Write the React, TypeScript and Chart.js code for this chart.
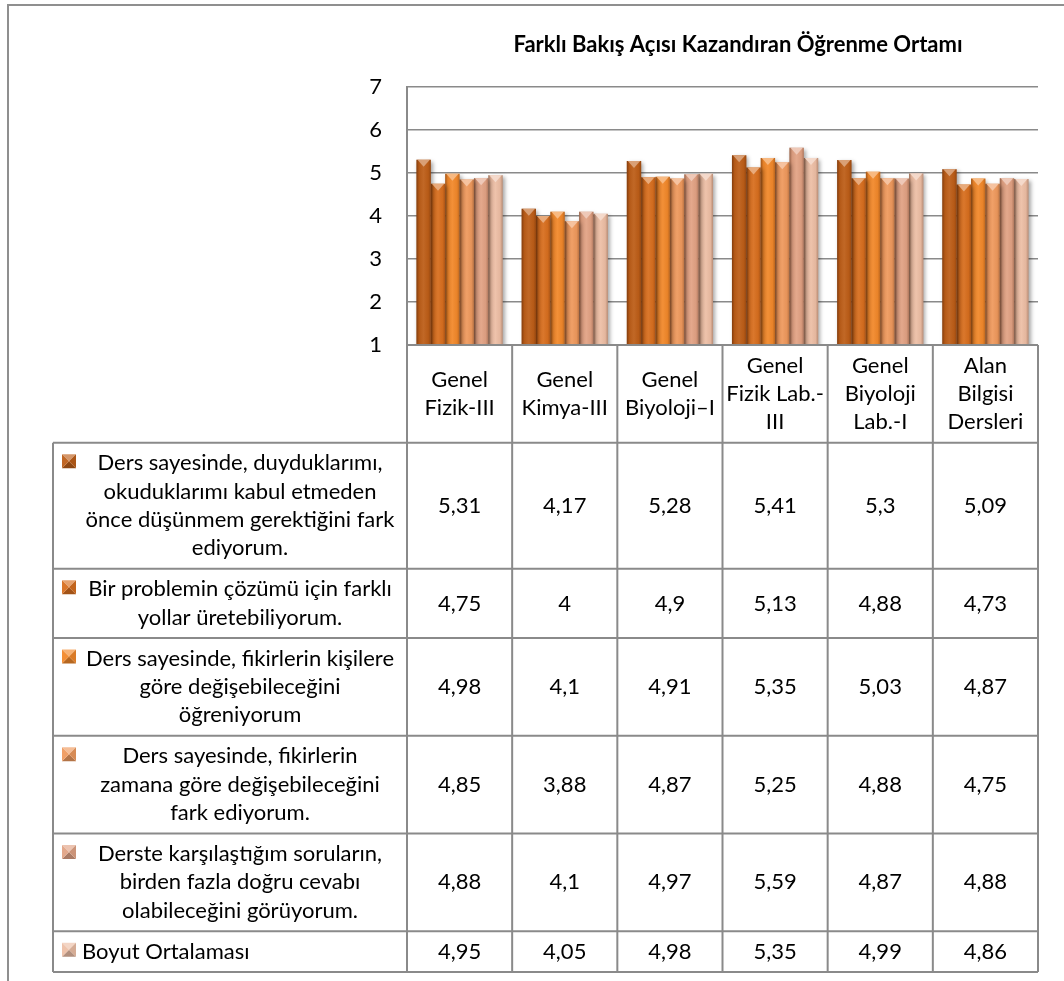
import React, { useEffect, useRef } from "react";
import { Chart, registerables } from "chart.js";

Chart.register(...registerables);

// ---------- data ----------
const chartTitle = "Farklı Bakış Açısı Kazandıran Öğrenme Ortamı";

const categoryLines: string[][] = [
  ["Genel", "Fizik-III"],
  ["Genel", "Kimya-III"],
  ["Genel", "Biyoloji–I"],
  ["Genel", "Fizik Lab.-", "III"],
  ["Genel", "Biyoloji", "Lab.-I"],
  ["Alan", "Bilgisi", "Dersleri"],
];

const seriesLabelLines: string[][] = [
  ["Ders sayesinde, duyduklarımı,", "okuduklarımı kabul etmeden", "önce düşünmem gerektiğini fark", "ediyorum."],
  ["Bir problemin çözümü için farklı", "yollar üretebiliyorum."],
  ["Ders sayesinde, fikirlerin kişilere", "göre değişebileceğini", "öğreniyorum"],
  ["Ders sayesinde, fikirlerin", "zamana göre değişebileceğini", "fark ediyorum."],
  ["Derste karşılaştığım soruların,", "birden fazla doğru cevabı", "olabileceğini görüyorum."],
  ["Boyut Ortalaması"],
];

const duyduklarimi = [5.31, 4.17, 5.28, 5.41, 5.3, 5.09];
const farkliYollar = [4.75, 4, 4.9, 5.13, 4.88, 4.73];
const kisilereGore = [4.98, 4.1, 4.91, 5.35, 5.03, 4.87];
const zamanaGore = [4.85, 3.88, 4.87, 5.25, 4.88, 4.75];
const dogruCevap = [4.88, 4.1, 4.97, 5.59, 4.87, 4.88];
const boyutOrtalamasi = [4.95, 4.05, 4.98, 5.35, 4.99, 4.86];

const seriesValues = [duyduklarimi, farkliYollar, kisilereGore, zamanaGore, dogruCevap, boyutOrtalamasi];

const yMin = 1;
const yMax = 7;
const yStep = 1;

const seriesColors = ["#BD5E18", "#D86F1F", "#F2892B", "#EF9A5E", "#E2A385", "#EDBFA6"];

// ---------- styles ----------
const FONT = "Lato, 'Open Sans', sans-serif";
const LINE_COLOR = "#8a8a8a";
const TEXT_SIZE = 22;

function shade(hex: string, amt: number): string {
  const n = parseInt(hex.slice(1), 16);
  let r = (n >> 16) & 255, g = (n >> 8) & 255, b = n & 255;
  if (amt >= 0) {
    r = Math.round(r + (255 - r) * amt);
    g = Math.round(g + (255 - g) * amt);
    b = Math.round(b + (255 - b) * amt);
  } else {
    r = Math.round(r * (1 + amt));
    g = Math.round(g * (1 + amt));
    b = Math.round(b * (1 + amt));
  }
  return `rgb(${r},${g},${b})`;
}

function fmt(v: number): string {
  return String(v).replace(".", ",");
}

const decorPlugin = {
  id: "decor",
  beforeDraw(chart: any) {
    const ctx = chart.ctx as CanvasRenderingContext2D;
    ctx.save();
    ctx.fillStyle = "#ffffff";
    ctx.fillRect(0, 0, chart.width, chart.height);
    // outer frame (cropped at right and bottom)
    ctx.strokeStyle = "#8f8f8f";
    ctx.lineWidth = 2;
    ctx.beginPath();
    ctx.moveTo(8, chart.height + 5);
    ctx.lineTo(8, 5);
    ctx.lineTo(chart.width + 5, 5);
    ctx.stroke();
    ctx.restore();
  },
  beforeDatasetsDraw(chart: any) {
    const ctx = chart.ctx as CanvasRenderingContext2D;
    ctx.save();
    ctx.shadowColor = "rgba(0,0,0,0.35)";
    ctx.shadowBlur = 4;
    ctx.shadowOffsetX = 2;
    ctx.shadowOffsetY = 2;
  },
  afterDatasetsDraw(chart: any) {
    const ctx = chart.ctx as CanvasRenderingContext2D;
    ctx.restore();
    const area = chart.chartArea;
    ctx.save();
    ctx.beginPath();
    ctx.rect(area.left, area.top, area.right - area.left, area.bottom - area.top);
    ctx.clip();
    chart.data.datasets.forEach((ds: any, di: number) => {
      const meta = chart.getDatasetMeta(di);
      meta.data.forEach((bar: any) => {
        const { x, y, base, width } = bar.getProps(["x", "y", "base", "width"], true);
        const l = x - width / 2;
        const h = base - y;
        const g = ctx.createLinearGradient(l, 0, l + width, 0);
        g.addColorStop(0, "rgba(60,20,0,0.45)");
        g.addColorStop(0.18, "rgba(60,20,0,0.08)");
        g.addColorStop(0.5, "rgba(255,255,255,0.06)");
        g.addColorStop(0.82, "rgba(60,20,0,0.05)");
        g.addColorStop(1, "rgba(60,20,0,0.3)");
        ctx.fillStyle = g;
        ctx.fillRect(l, y, width, h);
        // top bevel triangle
        ctx.fillStyle = shade(seriesColors[di], 0.45);
        ctx.globalAlpha = 0.9;
        ctx.beginPath();
        ctx.moveTo(l + 1, y);
        ctx.lineTo(l + width - 1, y);
        ctx.lineTo(x, y + 7);
        ctx.closePath();
        ctx.fill();
        ctx.globalAlpha = 1;
      });
    });
    ctx.restore();
  },
  afterDraw(chart: any) {
    const ctx = chart.ctx as CanvasRenderingContext2D;
    const area = chart.chartArea;
    const xs = chart.scales.x;
    const n = categoryLines.length;
    const colW = (area.right - area.left) / n;
    const lineH = 28.4;
    const pad = 12.5;
    const labelLeft = 53;
    const textCenter = 240;

    ctx.save();
    // title
    ctx.fillStyle = "#000";
    ctx.font = `bold 22px ${FONT}`;
    ctx.textAlign = "center";
    ctx.textBaseline = "middle";
    ctx.fillText(chartTitle, 738, 45);

    // header row
    const maxHeaderLines = Math.max(...categoryLines.map((c) => c.length));
    const headerTop = area.bottom;
    const headerBottom = headerTop + maxHeaderLines * lineH + pad;
    ctx.font = `${TEXT_SIZE}px ${FONT}`;
    const hc = (headerTop + headerBottom) / 2;
    categoryLines.forEach((lines, i) => {
      const cx = xs.getPixelForValue(i);
      lines.forEach((t, k) => {
        ctx.fillText(t, cx, hc + (k - (lines.length - 1) / 2) * lineH);
      });
    });

    // rows
    const rowTops: number[] = [];
    let yTop = headerBottom;
    seriesLabelLines.forEach((lines) => {
      rowTops.push(yTop);
      yTop += lines.length * lineH + pad;
    });
    const tableBottom = yTop;

    seriesLabelLines.forEach((lines, ri) => {
      const top = rowTops[ri];
      const h = lines.length * lineH + pad;
      const c = top + h / 2;
      // legend key
      const firstY = c - ((lines.length - 1) / 2) * lineH;
      const kx = 62, ky = firstY - 9, ks = 14;
      const col = seriesColors[ri];
      const tri = (pts: number[][], fill: string) => {
        ctx.fillStyle = fill;
        ctx.beginPath();
        ctx.moveTo(pts[0][0], pts[0][1]);
        ctx.lineTo(pts[1][0], pts[1][1]);
        ctx.lineTo(pts[2][0], pts[2][1]);
        ctx.closePath();
        ctx.fill();
      };
      const mx = kx + ks / 2, my = ky + ks / 2;
      tri([[kx, ky], [kx + ks, ky], [mx, my]], shade(col, 0.35));
      tri([[kx, ky + ks], [kx + ks, ky + ks], [mx, my]], shade(col, -0.25));
      tri([[kx, ky], [kx, ky + ks], [mx, my]], shade(col, 0.05));
      tri([[kx + ks, ky], [kx + ks, ky + ks], [mx, my]], shade(col, -0.1));

      ctx.fillStyle = "#000";
      ctx.font = `${TEXT_SIZE}px ${FONT}`;
      if (lines.length === 1) {
        ctx.textAlign = "left";
        ctx.fillText(lines[0], 82, c);
      } else {
        ctx.textAlign = "center";
        lines.forEach((t, k) => {
          ctx.fillText(t, textCenter, c + (k - (lines.length - 1) / 2) * lineH);
        });
      }
      ctx.textAlign = "center";
      seriesValues[ri].forEach((v, i) => {
        ctx.fillText(fmt(v), xs.getPixelForValue(i), c);
      });
    });

    // grid lines of table
    ctx.strokeStyle = LINE_COLOR;
    ctx.lineWidth = 2;
    ctx.beginPath();
    ctx.moveTo(area.left, headerTop);
    ctx.lineTo(area.right, headerTop);
    [...rowTops, tableBottom].forEach((yy) => {
      ctx.moveTo(labelLeft, yy);
      ctx.lineTo(area.right, yy);
    });
    ctx.moveTo(labelLeft, headerBottom);
    ctx.lineTo(labelLeft, tableBottom);
    for (let i = 0; i <= n; i++) {
      const xx = xs.getPixelForValue(i) - colW / 2;
      ctx.moveTo(xx, i === 0 ? area.top : headerTop);
      ctx.lineTo(xx, tableBottom);
    }
    ctx.stroke();
    ctx.restore();
  },
};

export default function App() {
  const ref = useRef<HTMLCanvasElement>(null);

  useEffect(() => {
    document.body.style.margin = "0";
    let chart: Chart | null = null;
    let cancelled = false;
    const make = () => {
      if (cancelled || !ref.current) return;
      chart = new Chart(ref.current, {
        type: "bar",
        data: {
          labels: categoryLines.map((c) => c.join(" ")),
          datasets: seriesValues.map((vals, i) => ({
            label: seriesLabelLines[i].join(" "),
            data: vals,
            backgroundColor: seriesColors[i],
            borderWidth: 0,
            categoryPercentage: 0.82,
            barPercentage: 1.0,
          })),
        },
        options: {
          responsive: false,
          animation: false,
          layout: { padding: { left: 300, top: 87, right: 26, bottom: 636 } },
          plugins: {
            legend: { display: false },
            tooltip: { enabled: false },
            title: { display: false },
          },
          scales: {
            x: { display: false },
            y: {
              min: yMin,
              max: yMax,
              ticks: {
                stepSize: yStep,
                color: "#000",
                font: { family: FONT, size: 22 },
                padding: 25,
              },
              grid: { color: LINE_COLOR, lineWidth: 1.5, drawTicks: false },
              border: { display: true, color: LINE_COLOR, width: 2 },
              afterFit: (s: any) => {
                s.width = 107;
              },
            },
          },
        } as any,
        plugins: [decorPlugin],
      });
    };
    const fonts = (document as any).fonts;
    if (fonts && fonts.load) {
      Promise.all([fonts.load(`22px Lato`), fonts.load(`bold 22px Lato`)]).then(make, make);
    } else {
      make();
    }
    return () => {
      cancelled = true;
      if (chart) chart.destroy();
    };
  }, []);

  return (
    <div style={{ width: 1064, height: 981 }}>
      <canvas ref={ref} width={1064} height={981} style={{ display: "block", width: 1064, height: 981 }} />
    </div>
  );
}
